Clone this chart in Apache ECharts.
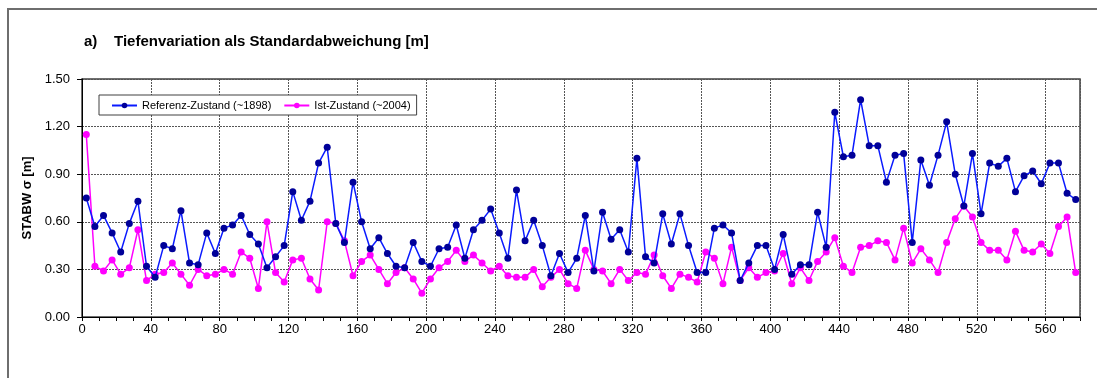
<!DOCTYPE html>
<html>
<head>
<meta charset="utf-8">
<script src="https://cdn.jsdelivr.net/npm/echarts@6/dist/echarts.min.js"></script>
<style>
  html, body { margin: 0; padding: 0; background: #fff; }
  #chart { width: 1097px; height: 378px; }
</style>
</head>
<body>
<div id="chart"></div>
<script>
// Flusskilometer der Profile
const km = [
  2.5, 7.5, 12.5, 17.5, 22.5, 27.5, 32.5, 37.5, 42.5, 47.5,
  52.5, 57.5, 62.5, 67.5, 72.5, 77.5, 82.5, 87.5, 92.5, 97.5,
  102.5, 107.5, 112.5, 117.5, 122.5, 127.5, 132.5, 137.5, 142.5, 147.5,
  152.5, 157.5, 162.5, 167.5, 172.5, 177.5, 182.5, 187.5, 192.5, 197.5,
  202.5, 207.5, 212.5, 217.5, 222.5, 227.5, 232.5, 237.5, 242.5, 247.5,
  252.5, 257.5, 262.5, 267.5, 272.5, 277.5, 282.5, 287.5, 292.5, 297.5,
  302.5, 307.5, 312.5, 317.5, 322.5, 327.5, 332.5, 337.5, 342.5, 347.5,
  352.5, 357.5, 362.5, 367.5, 372.5, 377.5, 382.5, 387.5, 392.5, 397.5,
  402.5, 407.5, 412.5, 417.5, 422.5, 427.5, 432.5, 437.5, 442.5, 447.5,
  452.5, 457.5, 462.5, 467.5, 472.5, 477.5, 482.5, 487.5, 492.5, 497.5,
  502.5, 507.5, 512.5, 517.5, 522.5, 527.5, 532.5, 537.5, 542.5, 547.5,
  552.5, 557.5, 562.5, 567.5, 572.5, 577.5
];

// Standardabweichung der Tiefe, Referenz-Zustand (~1898)
const referenz = [
  0.75, 0.57, 0.64, 0.53, 0.41, 0.59, 0.73, 0.32, 0.25, 0.45,
  0.43, 0.67, 0.34, 0.33, 0.53, 0.40, 0.56, 0.58, 0.64, 0.52,
  0.46, 0.31, 0.38, 0.45, 0.79, 0.61, 0.73, 0.97, 1.07, 0.59,
  0.47, 0.85, 0.60, 0.43, 0.50, 0.40, 0.32, 0.31, 0.47, 0.35,
  0.32, 0.43, 0.44, 0.58, 0.37, 0.55, 0.61, 0.68, 0.53, 0.37,
  0.80, 0.48, 0.61, 0.45, 0.26, 0.40, 0.28, 0.37, 0.64, 0.29,
  0.66, 0.49, 0.55, 0.41, 1.00, 0.38, 0.34, 0.65, 0.46, 0.65,
  0.45, 0.28, 0.28, 0.56, 0.58, 0.53, 0.23, 0.34, 0.45, 0.45,
  0.30, 0.52, 0.27, 0.33, 0.33, 0.66, 0.44, 1.29, 1.01, 1.02,
  1.37, 1.08, 1.08, 0.85, 1.02, 1.03, 0.47, 0.99, 0.83, 1.02,
  1.23, 0.90, 0.70, 1.03, 0.65, 0.97, 0.95, 1.00, 0.79, 0.89,
  0.92, 0.84, 0.97, 0.97, 0.78, 0.74
];

// Standardabweichung der Tiefe, Ist-Zustand (~2004)
const ist = [
  1.15, 0.32, 0.29, 0.36, 0.27, 0.31, 0.55, 0.23, 0.27, 0.28,
  0.34, 0.27, 0.20, 0.30, 0.26, 0.27, 0.30, 0.27, 0.41, 0.37,
  0.18, 0.60, 0.28, 0.22, 0.36, 0.37, 0.24, 0.17, 0.60, 0.59,
  0.48, 0.26, 0.35, 0.39, 0.30, 0.21, 0.28, 0.31, 0.24, 0.15,
  0.24, 0.31, 0.35, 0.42, 0.35, 0.39, 0.34, 0.29, 0.32, 0.26,
  0.25, 0.25, 0.30, 0.19, 0.25, 0.30, 0.21, 0.18, 0.42, 0.30,
  0.29, 0.21, 0.30, 0.23, 0.28, 0.27, 0.39, 0.26, 0.18, 0.27,
  0.25, 0.22, 0.41, 0.37, 0.21, 0.44, 0.23, 0.31, 0.25, 0.28,
  0.29, 0.40, 0.21, 0.31, 0.23, 0.35, 0.41, 0.50, 0.32, 0.28,
  0.44, 0.45, 0.48, 0.47, 0.36, 0.56, 0.34, 0.43, 0.36, 0.28,
  0.47, 0.62, 0.70, 0.63, 0.47, 0.42, 0.42, 0.36, 0.54, 0.42,
  0.41, 0.46, 0.40, 0.57, 0.63, 0.28
];

const seriesNames = ['Referenz-Zustand (~1898)', 'Ist-Zustand (~2004)'];
const titleText = 'a)    Tiefenvariation als Standardabweichung [m]';
const yAxisTitle = 'STABW σ [m]';

const FONT = '"Liberation Sans", Arial, sans-serif';
const pairs = vals => km.map((x, i) => [x, vals[i]]);

const chart = echarts.init(document.getElementById('chart'), null, { renderer: 'canvas' });

chart.setOption({
  animation: false,
  backgroundColor: '#ffffff',
  textStyle: { fontFamily: FONT },
  title: {
    text: titleText,
    left: 79,
    top: 29,
    textStyle: { fontFamily: FONT, fontSize: 15, fontWeight: 'bold', color: '#000' }
  },
  graphic: [
    {
      // Rahmen des Diagrammbereichs (läuft rechts und unten über den Rand hinaus)
      type: 'rect',
      shape: { x: 8, y: 9, width: 1200, height: 420 },
      style: { fill: 'none', stroke: '#6e6e6e', lineWidth: 2 },
      silent: true
    }
  ],
  legend: {
    left: 99,
    top: 95,
    data: seriesNames,
    itemWidth: 25,
    itemHeight: 7,
    itemGap: 12,
    padding: [5, 6, 4, 12],
    borderColor: '#404040',
    borderWidth: 1,
    backgroundColor: '#fff',
    textStyle: { fontFamily: FONT, fontSize: 11, color: '#000' }
  },
  grid: {
    left: 82,
    right: 17,
    top: 79,
    bottom: 61,
    show: true,
    borderColor: '#404040',
    borderWidth: 1.5,
    backgroundColor: '#fff'
  },
  xAxis: {
    type: 'value',
    min: 0,
    max: 580,
    interval: 40,
    axisLine: { show: true, onZero: false, lineStyle: { color: '#000', width: 1 } },
    axisTick: { show: true, length: 4, lineStyle: { color: '#000' } },
    minorTick: { show: true, splitNumber: 4, length: 4, lineStyle: { color: '#000' } },
    splitLine: { show: true, lineStyle: { color: '#555', type: [2, 1], width: 1 } },
    axisLabel: {
      fontFamily: FONT, fontSize: 13, color: '#000', margin: 6,
      showMaxLabel: false
    }
  },
  yAxis: {
    type: 'value',
    min: 0,
    max: 1.5,
    interval: 0.3,
    name: yAxisTitle,
    nameLocation: 'middle',
    nameGap: 46,
    nameTextStyle: { fontFamily: FONT, fontSize: 13, fontWeight: 'bold', color: '#000' },
    axisLine: { show: true, lineStyle: { color: '#000', width: 1 } },
    axisTick: { show: true, length: 5, inside: false, lineStyle: { color: '#000' } },
    splitLine: { show: true, lineStyle: { color: '#555', type: [2, 1], width: 1 } },
    axisLabel: {
      fontFamily: FONT, fontSize: 13, color: '#000', margin: 12,
      formatter: v => v.toFixed(2)
    }
  },
  series: [
    {
      name: seriesNames[0],
      type: 'line',
      data: pairs(referenz),
      symbol: 'circle',
      symbolSize: 7,
      lineStyle: { color: '#0a1aff', width: 1.5 },
      itemStyle: { color: '#000099', borderColor: '#000099', borderWidth: 0 },
      color: '#0a1aff',
      z: 3
    },
    {
      name: seriesNames[1],
      type: 'line',
      data: pairs(ist),
      symbol: 'circle',
      symbolSize: 7,
      lineStyle: { color: '#ff00ff', width: 1.5 },
      itemStyle: { color: '#ff00ff' },
      color: '#ff00ff',
      z: 2
    }
  ]
});
</script>
</body>
</html>
